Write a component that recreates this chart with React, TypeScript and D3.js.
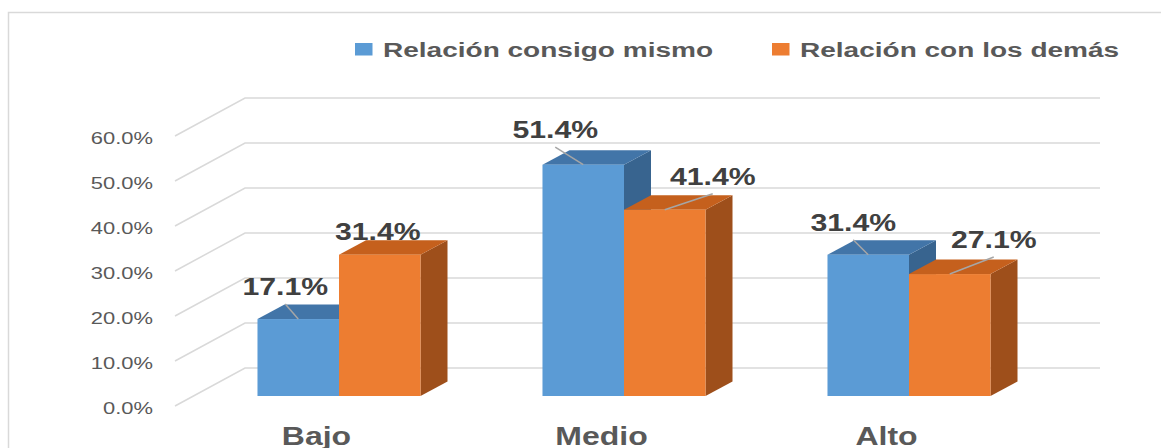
import React from "react";
import * as d3 from "d3";

const categories = ["Bajo", "Medio", "Alto"];
const seriesNames = ["Relación consigo mismo", "Relación con los demás"];
const consigoMismo = [17.1, 51.4, 31.4];
const conLosDemas = [31.4, 41.4, 27.1];
const yTicks = [0, 10, 20, 30, 40, 50, 60];
const yTickLabels = ["0.0%", "10.0%", "20.0%", "30.0%", "40.0%", "50.0%", "60.0%"];

// presentation config
const W = 1161;
const H = 448;
const FRONT_LEFT = 175;
const FRONT_RIGHT = 1030;
const DEPTH_X = 70;
const DEPTH_Y = -38;
const BAR_SHIFT_X = 21.5;
const BAR_SHIFT_Y = -10;
const BAR_DX = 27;
const BAR_DY = -14.5;
const colors = [
  { front: "#5B9BD5", top: "#4275A8", side: "#38648F" },
  { front: "#ED7D31", top: "#C5601D", side: "#9E4F1B" },
];
// label offsets relative to bar top-front centre [dx, dy] per series per category
const labelOffsets = [
  [[-13, -24], [-28, -26.5], [-15, -24]],
  [[-2, -15], [48, -25], [44, -26]],
];

function SText({ x, y, sx, anchor, size, weight, fill, family, children }: any) {
  return (
    <g transform={`translate(${x},${y}) scale(${sx},1)`}>
      <text
        x={0}
        y={0}
        textAnchor={anchor}
        fontSize={size}
        fontWeight={weight}
        fill={fill}
        fontFamily={family}
      >
        {children}
      </text>
    </g>
  );
}

export default function App() {
  const values = [consigoMismo, conLosDemas];
  const y = d3.scaleLinear().domain([0, 60]).range([406, 136]);
  const x0 = d3
    .scaleBand<string>()
    .domain(categories)
    .range([FRONT_LEFT, FRONT_RIGHT])
    .paddingInner(0.428)
    .paddingOuter(0.214);
  const x1 = d3
    .scaleBand<string>()
    .domain(seriesNames)
    .range([0, x0.bandwidth()]);

  const font = "'Liberation Sans', Arial, sans-serif";

  const bars: any[] = [];
  const labels: any[] = [];
  const leaders: any[] = [];
  categories.forEach((c, ci) => {
    seriesNames.forEach((s, si) => {
      const v = values[si][ci];
      const xl = (x0(c) as number) + (x1(s) as number) + BAR_SHIFT_X;
      const w = x1.bandwidth();
      const yb = y(0) + BAR_SHIFT_Y;
      const yt = y(v) + BAR_SHIFT_Y;
      const col = colors[si];
      bars.push(
        <g key={`b-${ci}-${si}`}>
          <polygon
            points={`${xl + w},${yt} ${xl + w + BAR_DX},${yt + BAR_DY} ${xl + w + BAR_DX},${yb + BAR_DY} ${xl + w},${yb}`}
            fill={col.side}
          />
          <polygon
            points={`${xl},${yt} ${xl + w},${yt} ${xl + w + BAR_DX},${yt + BAR_DY} ${xl + BAR_DX},${yt + BAR_DY}`}
            fill={col.top}
          />
          <rect x={xl} y={yt} width={w} height={yb - yt} fill={col.front} />
        </g>
      );
      const cx = xl + w / 2;
      const [odx, ody] = labelOffsets[si][ci];
      const lx = cx + odx;
      const ly = yt + ody;
      labels.push(
        <SText
          key={`l-${ci}-${si}`}
          x={lx}
          y={ly}
          sx={1.26}
          anchor="middle"
          size={24}
          weight="bold"
          fill="#404040"
          family={font}
        >
          {d3.format(".1f")(v) + "%"}
        </SText>
      );
      const ex = lx;
      const ey = ly + 9;
      if (Math.hypot(ex - cx, ey - yt) > 12) {
        leaders.push(
          <line
            key={`ld-${ci}-${si}`}
            x1={cx}
            y1={yt}
            x2={ex}
            y2={ey}
            stroke="#A6A6A6"
            strokeWidth={1.5}
          />
        );
      }
    });
  });

  return (
    <svg
      width={W}
      height={H}
      style={{ position: "absolute", left: 0, top: 0, background: "#fff" }}
    >
      <rect x={8.5} y={12.5} width={1400} height={600} fill="#fff" stroke="#D9D9D9" strokeWidth={1.5} />

      {/* gridlines */}
      {yTicks.map((t) => (
        <polyline
          key={`g-${t}`}
          points={`${FRONT_LEFT},${y(t)} ${FRONT_LEFT + DEPTH_X},${y(t) + DEPTH_Y} ${FRONT_RIGHT + DEPTH_X},${y(t) + DEPTH_Y}`}
          fill="none"
          stroke="#D9D9D9"
          strokeWidth={1.5}
        />
      ))}

      {/* y tick labels */}
      {yTicks.map((t, i) => (
        <SText
          key={`yt-${t}`}
          x={153}
          y={y(t) + 8}
          sx={1.29}
          anchor="end"
          size={17}
          weight="normal"
          fill="#595959"
          family={font}
        >
          {yTickLabels[i]}
        </SText>
      ))}

      {labels}
      {bars}
      {leaders}

      {/* category labels */}
      {categories.map((c) => (
        <SText
          key={`c-${c}`}
          x={(x0(c) as number) + x0.bandwidth() / 2 - 1}
          y={445}
          sx={1.23}
          anchor="middle"
          size={26}
          weight="bold"
          fill="#595959"
          family={font}
        >
          {c}
        </SText>
      ))}

      {/* legend */}
      {seriesNames.map((s, i) => {
        const lx = i === 0 ? 355 : 772;
        return (
          <g key={`lg-${i}`}>
            <rect x={lx} y={43} width={17.5} height={12.5} fill={colors[i].front} />
            <SText
              x={lx + 28}
              y={56.5}
              sx={1.335}
              anchor="start"
              size={21}
              weight="bold"
              fill="#595959"
              family={font}
            >
              {s}
            </SText>
          </g>
        );
      })}
    </svg>
  );
}
